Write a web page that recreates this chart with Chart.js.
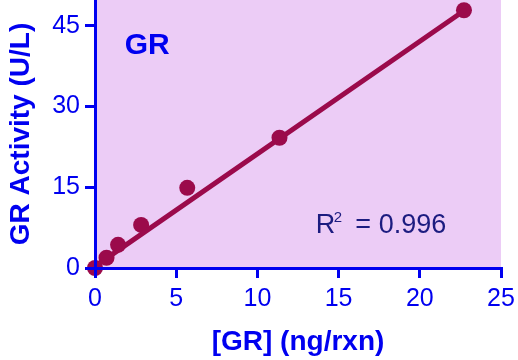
<!DOCTYPE html>
<html><head><meta charset="utf-8">
<script src="https://cdn.jsdelivr.net/npm/chart.js@4/dist/chart.umd.min.js"></script>
<style>html,body{margin:0;padding:0;background:#fff}#wrap{width:518px;height:360px}</style>
</head><body><div id="wrap"><canvas id="c" width="518" height="360"></canvas></div>
<script>
const grAmount = [0, 0.71, 1.42, 2.84, 5.68, 11.36, 22.72];
const grActivity = [0, 1.9, 4.3, 8.0, 14.9, 24.2, 47.9];
const fitX = [0, 22.72];
const fitY = [0.3, 47.8];
const xTicks = [0, 5, 10, 15, 20, 25];
const yTicks = [0, 15, 30, 45];
const xTitle = '[GR] (ng/rxn)';
const yTitle = 'GR Activity (U/L)';
const panelLabel = 'GR';
const r2Value = '0.996';

const BLUE = '#0000f0';
const MARK = '#9b0a4b';
const FONT = '"Liberation Sans", Arial, sans-serif';

const bgPlugin = {
  id: 'bg',
  beforeDraw(chart) {
    const {ctx, chartArea: a} = chart;
    ctx.save();
    ctx.fillStyle = '#ecccf6';
    ctx.fillRect(a.left, a.top, a.right - a.left, a.bottom - a.top);
    ctx.restore();
  }
};

const annotPlugin = {
  id: 'annot',
  afterDatasetsDraw(chart) {
    const {ctx, scales: {x, y}} = chart;
    ctx.save();
    ctx.textBaseline = 'alphabetic';
    ctx.textAlign = 'left';
    ctx.fillStyle = BLUE;
    ctx.font = 'bold 30px ' + FONT;
    ctx.fillText(panelLabel, x.getPixelForValue(1.83), y.getPixelForValue(39.8));
    const rx = x.getPixelForValue(13.6), ry = y.getPixelForValue(6.5);
    ctx.fillStyle = '#1c1c80';
    ctx.font = '27px ' + FONT;
    ctx.fillText('R', rx, ry);
    ctx.font = '15px ' + FONT;
    ctx.fillText('2', rx + 18, ry - 11);
    ctx.font = '27px ' + FONT;
    ctx.fillText('= ' + r2Value, rx + 39.5, ry);
    ctx.restore();
  }
};

const axisCommon = {
  border: {display: true, color: BLUE, width: 3, z: 1},
  grid: {display: true, drawOnChartArea: false, drawTicks: true, tickLength: 10, color: BLUE, lineWidth: 3, z: 1},
};

new Chart(document.getElementById('c'), {
  type: 'scatter',
  data: {
    datasets: [
      {
        type: 'line',
        data: fitX.map((v, i) => ({x: v, y: fitY[i]})),
        borderColor: MARK, borderWidth: 5, pointRadius: 0, fill: false, clip: false,
        borderCapStyle: 'round'
      },
      {
        data: grAmount.map((v, i) => ({x: v, y: grActivity[i]})),
        backgroundColor: MARK, borderColor: MARK, pointRadius: 8, borderWidth: 0, clip: false
      }
    ]
  },
  options: {
    responsive: false,
    devicePixelRatio: 1,
    animation: false,
    layout: {autoPadding: false, padding: {left: 0, right: 17, top: 0, bottom: 0}},
    plugins: {legend: {display: false}, tooltip: {enabled: false}},
    scales: {
      x: {
        type: 'linear', min: 0, max: 25,
        ...axisCommon,
        afterBuildTicks: s => { s.ticks = xTicks.map(v => ({value: v})); },
        afterFit: s => { s.height = 92; s.paddingLeft = 0; s.paddingRight = 0; },
        ticks: {color: BLUE, font: {family: FONT, size: 25}, padding: 6, maxRotation: 0, autoSkip: false},
        title: {display: true, text: xTitle, color: BLUE, font: {family: FONT, size: 28, weight: 'bold', lineHeight: 1}, padding: {top: 0, bottom: 4}}
      },
      y: {
        type: 'linear', min: 0, max: 49.8,
        ...axisCommon,
        afterBuildTicks: s => { s.ticks = yTicks.map(v => ({value: v})); },
        afterFit: s => { s.width = 95; s.paddingTop = 0; s.paddingBottom = 0; },
        ticks: {color: BLUE, font: {family: FONT, size: 25}, padding: 5, autoSkip: false},
        title: {display: true, text: yTitle, color: BLUE, font: {family: FONT, size: 28, weight: 'bold', lineHeight: 1}, padding: {top: 7, bottom: 0}}
      }
    }
  },
  plugins: [bgPlugin, annotPlugin]
});
</script>
</body></html>
